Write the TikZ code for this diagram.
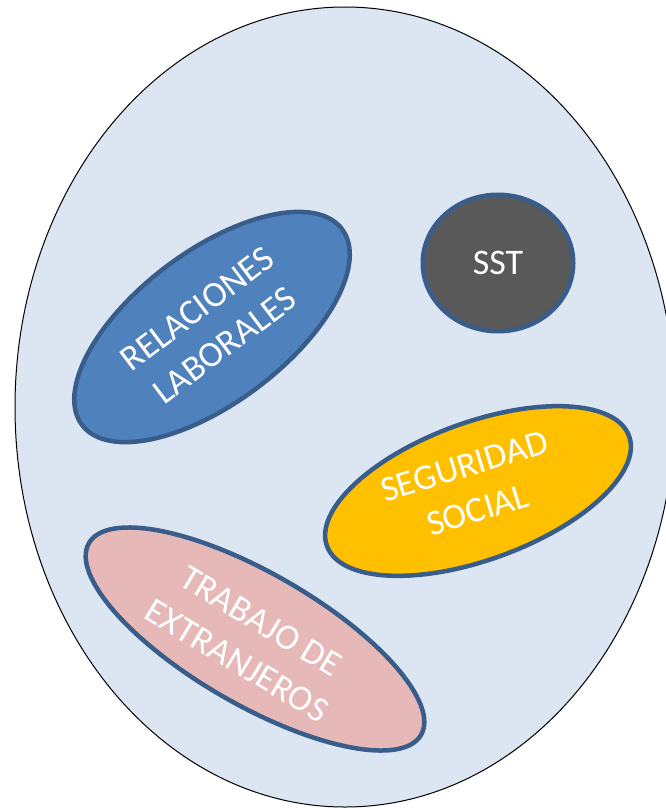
\documentclass[tikz,border=0pt]{standalone}
\usepackage{fontspec}
\setmainfont{Carlito}
\usepackage{tikz}
\usetikzlibrary{positioning,shapes.geometric}

\definecolor{areablue}{HTML}{DCE6F2}
\definecolor{rimblue}{HTML}{385D8A}
\definecolor{relblue}{HTML}{4F81BD}
\definecolor{sstgray}{HTML}{595959}
\definecolor{seggold}{HTML}{FFC000}
\definecolor{trapink}{HTML}{E6B9B8}

\begin{document}
\begin{tikzpicture}[x=1pt, y=-1pt,
    blob/.style={ellipse, draw=rimblue, line width=4.5pt, inner sep=0pt},
    lbl/.style={text=white, align=center, inner sep=0pt, font=\fontsize{36}{46}\selectfont}]
    \useasboundingbox (0,0) rectangle (666,808);
    % outer area
    \node[ellipse, draw=black, fill=areablue, line width=1pt, inner sep=0pt,
          minimum width=660, minimum height=800] (area) at (345,407) {};
    % the four fields
    \node[blob, fill=relblue, minimum width=325.5, minimum height=151.5, rotate=37] (rel) at (212,327) {};
    \node[blob, fill=sstgray, minimum width=150.5, minimum height=136.5] (sst) at (498,263) {};
    \node[blob, fill=seggold, minimum width=321.5, minimum height=137.5, rotate=20] (seg) at (478,491) {};
    \node[blob, fill=trapink, minimum width=383.5, minimum height=131.5, rotate=-30] (tra) at (255,639) {};
    % labels
    \node[lbl, rotate=37] (relText) at (211,327) {RELACIONES\\LABORALES};
    \node[lbl] (sstText) at (sst.center) {SST};
    \node[lbl, rotate=17] (segText) at (471,488) {SEGURIDAD\\SOCIAL};
    \node[lbl, rotate=-31] (traText) at (249,641) {TRABAJO DE\\EXTRANJEROS};
\end{tikzpicture}
\end{document}
